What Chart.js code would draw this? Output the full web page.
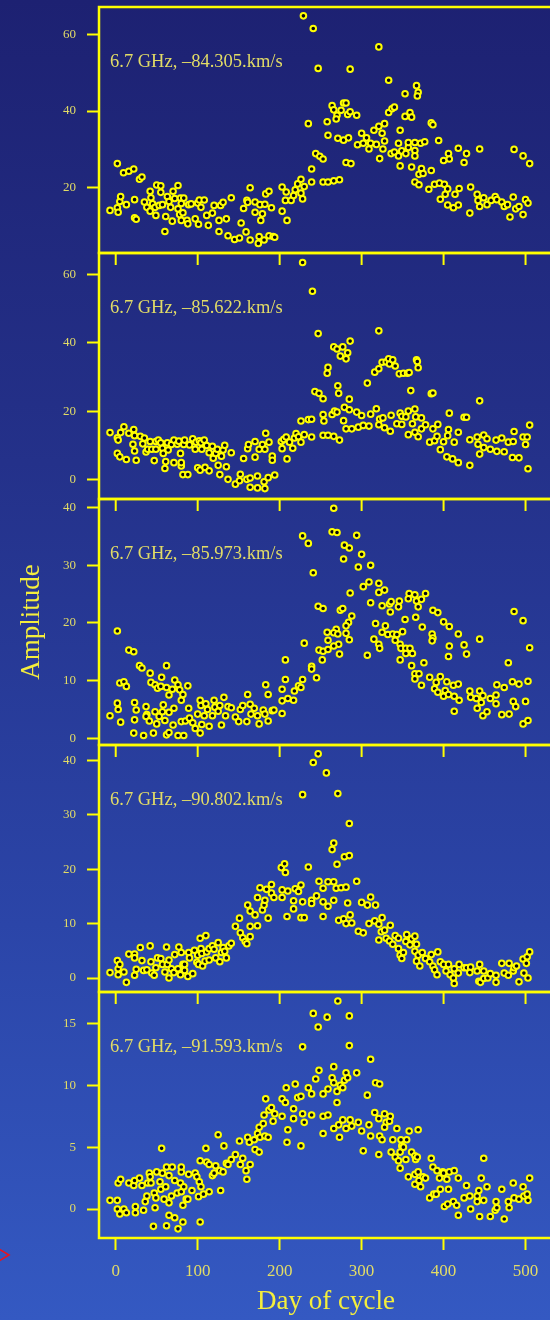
<!DOCTYPE html>
<html>
<head>
<meta charset="utf-8">
<script src="https://cdn.jsdelivr.net/npm/chart.js@4.4.1/dist/chart.umd.min.js"></script>
<style>
  html, body { margin: 0; padding: 0; overflow: hidden; }
  body {
    width: 550px; height: 1320px; position: relative;
    background: linear-gradient(to bottom, #1d2172 0%, #24318a 35%, #2b45a8 70%, #3459c2 100%);
  }
  canvas { position: absolute; left: 0; }
</style>
</head>
<body>
<canvas id="p1"></canvas>
<canvas id="p2"></canvas>
<canvas id="p3"></canvas>
<canvas id="p4"></canvas>
<canvas id="p5"></canvas>
<script>
// panel captions
const panelLabels = [
  '6.7 GHz, –84.305.km/s',
  '6.7 GHz, –85.622.km/s',
  '6.7 GHz, –85.973.km/s',
  '6.7 GHz, –90.802.km/s',
  '6.7 GHz, –91.593.km/s'
];

// tick labels
const xTicks = [0, 100, 200, 300, 400, 500];
const yTicks = [
  [20, 40, 60],
  [0, 20, 40, 60],
  [0, 10, 20, 30, 40],
  [0, 10, 20, 30, 40],
  [0, 5, 10, 15]
];
const yRanges = [[3.0, 67.1], [-5.75, 66.3], [-1.16, 41.5], [-2.57, 42.83], [-2.34, 17.53]];

// [day of cycle, amplitude]
const p1 = [[-7,14.1],[2,26.3],[2,14.8],[3,13.6],[5,16.4],[6,17.7],[9.5,23.9],[13,15.6],[16,24.3],[22,24.9],[23,16.9],[23,12.2],[25,11.8],[29,22.2],[32,22.8],[35,16.3],[38,14.9],[42,19.1],[42,13.9],[43,17.4],[45,15.8],[48,14.9],[49,12.8],[50,20.7],[53,15.4],[55,20.5],[55,18.8],[57,15.6],[60,8.6],[61,12.5],[63,17.7],[65,16.4],[67,14.9],[69,11.3],[70,19.1],[72,17.2],[76,14.5],[76,20.6],[78,13],[79,17.3],[80,15.9],[80,11.5],[82,13.5],[83,17.3],[87,11.5],[88,10.6],[89,15.6],[92,15.8],[97,11.9],[100,16],[101,10.5],[102,16.8],[104,14.9],[108,16.8],[111,12.8],[113,10.2],[118,13.4],[120,15.4],[126,8.6],[126,11.5],[128,15.4],[131,16.2],[135,11.9],[137,7.5],[141,17.4],[145,6.5],[151,6.9],[153,10.8],[156,14.6],[159,8.5],[160,16.7],[161,16.2],[164,20],[164,6.4],[170,16.3],[170,13.6],[174,5.5],[175,7.3],[176,15.6],[177,11.5],[179,13.2],[181,6.4],[182,15.7],[183,18.4],[187,7.5],[187,19.1],[190,14.8],[192,7.3],
  [194,7.1],[203,20.2],[203,13.9],[207,16.7],[208,18.9],[209,11.5],[214,16.7],[217,18],[219,19.5],[222,21],[226,18.6],[228,17.1],[230,20.3],[226,22.2],[239,24.9],[239,21.5],[244,28.9],[249,28.2],[253,27.5],[253,21.5],[259,21.5],[266,21.8],[273,22.1],
  [229,64.8],[241,61.5],[247,51.1],[235,36.7],[258,37.2],[259,33.7],[264,41.4],[266,40.3],[270,38.9],[269,37.9],[275,40.2],[278,42.1],[281,42.1],[283,39.1],[286,39.8],[294,38.9],[286,50.9],[271,32.9],[278,32.4],[284,33],[281,26.6],[287,26.3],[295,31.2],[300,34.2],[302,31.6],[306,33],[309,30.1],[311,31.6],[315,35],[318,31.3],[321,36],[321,56.7],[325,34.2],[328,36.7],[328,32.2],[326,30.1],[322,27.6],[333,48],[333,39.6],[337,40.6],[340,41],[336,28.9],[340,29.3],[345,31.6],[347,35],[345,28.3],[349,29.6],[347,25.7],[353,44.5],[353,38.6],[354,28.9],[357,30.5],[359,39.6],[361,38.4],[361,25.4],[357,31.8],[365,31.8],[365,29.7],[365,28.3],[367,46.6],[369,44.9],[368,43.9],[372,31.6],[373,25],[370,23.5],[375,23.7],[377,32],[385,36.9],[387,36.4],[385,24.5],[394,32.3],[365,21.5],[370,20.8],[382,19.6],[389,20.9],[395,21.2],[401,20.9],[405,19.7],[396,17],[402,18.3],[406,28.9],[407,27.5],[400,27.1],[414,18.3],[405,15.5],[412,14.8],[418,15.5],[418,30.3],[419,19.8],[425,26.6],[428,28.9],[433,20.2],[432,13.4],[441,18.3],[442,16.7],[444,15.1],[444,30.1],[449,17.4],[453,15.6],[458,16.7],[463,17.7],[465,16.9],[471,16.3],[474,15.1],[478,15.6],[481,12.4],[485,17.6],[486,30],[488,14.5],[492,15.1],[497,28.3],[497,13],[500,16.9],[503,16],[505,26.3]];

const p2 = [[-7,13.7],[2,12.2],[3,11.5],[6,13.7],[10,15.4],[2,7.6],[5,6.6],[13,5.8],[16,13.5],[22,14.6],[23,12.8],[21,10.3],[23,8.3],[25,5.6],[30,12.6],[33,10.4],[35,12.1],[37,8],[39,8.8],[42,11.1],[44,8.8],[47,5.5],[49,11.1],[49,8.8],[52,11.5],[55,10.7],[57,9.1],[58,7.6],[61,5.2],[60,3.2],[63,10.7],[64,8.6],[68,10.2],[71,11.5],[71,4.9],[75,10.3],[77,11.2],[79,7.6],[80,3.9],[82,1.4],[80,4.9],[83,10.2],[84,11.5],[88,1.4],[90,10.1],[94,11.9],[97,8.8],[98,10.9],[100,3.4],[102,11.3],[104,10.7],[105,8.8],[103,2.7],[109,3.5],[108,11.5],[111,9.9],[114,2.5],[114,7.8],[118,9.7],[119,6.2],[122,7.6],[124,8.8],[125,4.1],[127,1.4],[129,6.8],[131,8.6],[133,10],[135,3.7],[137,0],[141,7.8],[146,-1.4],[151,-0.4],[152,1.5],[156,6.1],[160,0],[161,9],[162,10.2],[164,0.4],[164,-2.3],[170,11.1],[170,6.5],[173,1],[173,-2.5],[175,8.8],[179,10.2],[181,-0.7],[182,8.8],[182,-2.7],[183,13.5],[186,0.5],[187,10.9],[191,6.8],[191,5.6],[194,1.3],[202,11.1],[203,9],[205,11.7],[208,12.4],[209,6],[212,10.9],[216,9.1],[218,12.1],[220,13.4],[223,12.5],[226,17.1],[226,10.9],[230,13.1],[235,17.5],[239,17.6],[239,12.4],[228,63.5],[240,55.1],[247,42.7],[243,25.7],[248,25.2],[253,23.6],[253,19],[254,17.1],[253,12.9],
  [259,32.8],[258,31.1],[259,12.9],[266,12.6],[264,19],[267,20],[270,19.7],[266,38.8],[270,38.2],[277,38.8],[274,36.1],[281,35.3],[283,37.1],[286,40.5],[271,27.4],[272,25.2],[273,11.5],[278,17.2],[279,21.1],[285,23.5],[285,20.4],[281,14.8],[288,14.8],[294,19.7],[296,15.3],[300,18.7],[302,15.8],[307,28.2],[309,15.6],[311,19.1],[316,31.4],[318,20.7],[321,43.5],[321,32.4],[322,17.7],[321,16],[325,34.3],[326,18],[328,15.1],[330,34.4],[333,35.3],[334,33.8],[335,14.1],[336,18.8],[338,35],[341,33.2],[343,16.3],[346,30.9],[347,19.4],[349,18.5],[349,16.1],[351,31.1],[354,18.3],[356,31.1],[357,20],[358,31.3],[357,13.1],[360,26],[362,16.3],[365,20.6],[365,13.8],[367,35],[368,34.5],[369,32.7],[366,18.3],[369,12.5],[373,18],[373,14.8],[378,16],[383,10.9],[385,25.1],[387,25.3],[387,14.8],[389,11.3],[392,12.6],[393,16.1],[396,8.7],[400,11],[404,6.6],[406,14.6],[407,19.4],[405,12.8],[411,6],[413,10.9],[418,4.9],[418,13.8],[425,18.2],[428,18.2],[432,11.6],[432,4.1],[441,12.4],[444,23],[442,10.3],[444,7.4],[449,9.3],[449,13],[453,11.9],[457,8.8],[464,11.5],[465,8.2],[471,12.1],[474,8.1],[479,10.9],[484,6.4],[486,14],[485,11.1],[492,6.3],[497,12.4],[500,10.2],[502,12.4],[503,3.1],[505,15.9]];

const p3 = [[-7,3.9],[2,18.6],[2,6.1],[3,5],[6,2.8],[5,9.6],[10,9.8],[13,9],[16,15.3],[22,15],[22,0.9],[23,6.2],[25,4.9],[23,3.2],[29,12.6],[32,12.2],[34,0.5],[37,5.5],[38,4.1],[37,3.8],[41,3],[42,11.3],[43,9.7],[46,0.9],[48,9.3],[48,4.6],[50,2.5],[51,8.7],[53,3.8],[55,9],[56,10.6],[58,5.8],[57,4.6],[60,3.1],[62,12.6],[62,0.6],[62,8.8],[65,7.5],[65,4.5],[65,1],[69,8.5],[70,2.3],[71,5.2],[72,10.1],[76,9.3],[76,0.5],[78,8.4],[80,6.6],[80,2.9],[82,7.6],[83,0.5],[85,3],[88,9.1],[89,5.2],[90,3.5],[94,2.7],[97,1.7],[100,4.2],[103,6.6],[104,5.7],[103,0.9],[105,2.4],[108,3.9],[110,6],[112,5],[114,2.1],[118,3.9],[120,6.6],[121,5.4],[125,4.7],[127,5.7],[129,2.3],[132,7.1],[134,3.9],[137,5.5],[141,5.3],[146,3.7],[150,2.9],[152,5],[155,5.7],[160,2.9],[161,7.6],[164,5.9],[165,4.2],[169,5.2],[173,3.9],[175,2.5],[180,4.9],[182,4.2],[183,9.3],[186,3],[186,7.6],[191,4.8],[193,4.9],[203,8.5],[203,4.3],[203,6.5],[207,10.2],[207,13.6],[210,6.9],[217,6.6],[218,8.2],[223,9.1],[226,8.8],[228,10.2],[230,16.5],[228,35.1],[235,33.8],[241,28.7],[239,12.5],[239,12],[245,10.5],[247,22.9],[253,22.5],[248,15.3],[253,15.1],[252,13.6],
  [266,39.9],[264,35.8],[270,35.7],[279,33.5],[285,33],[278,31.1],[294,35.2],[300,31.9],[296,29.7],[311,30],[309,27.1],[302,26.3],[321,26.9],[321,25.3],[328,25.7],[286,25.2],[311,23.5],[325,23],[334,23.3],[336,23.7],[346,23.8],[345,22.8],[335,21.9],[274,22.2],[277,22.5],[288,21.2],[284,20.1],[281,19.5],[258,18.4],[269,18.9],[266,18.3],[271,18.1],[281,18.2],[285,17.1],[259,17],[272,16.3],[266,16],[259,15.4],[273,14.6],[307,14.4],[317,19.9],[329,19.5],[325,18.4],[315,17.2],[321,16.3],[322,15.6],[332,18],[338,18.1],[343,18],[350,18.5],[341,17],[347,16.3],[348,15.6],[353,20.6],[358,25.1],[357,24.2],[365,24.9],[367,23.8],[369,22.8],[373,24.1],[378,25.1],[366,21],[374,19.3],[354,15.6],[359,15.6],[354,14.7],[362,14.7],[347,13.6],[361,12.6],[365,11.2],[370,11.2],[365,10.3],[376,13.1],[373,9.2],[383,10.6],[387,22.2],[393,21.8],[386,18.1],[387,17.4],[386,16.9],[391,9.7],[389,8.6],[393,8],[396,10.7],[400,20.2],[407,19.4],[404,9.8],[402,8.3],[400,7.3],[407,16],[406,14.2],[406,7.6],[412,9.2],[413,7.3],[413,4.7],[418,18.1],[418,9.4],[419,6.6],[425,16.2],[428,14.6],[432,8.2],[433,7.1],[440,6.9],[441,5.2],[444,17.2],[444,8.2],[446,6.2],[448,7.4],[448,3.9],[453,4.6],[457,6.9],[464,7.5],[465,9.3],[464,6],[471,4.1],[474,8.8],[479,13.1],[480,4.2],[484,9.8],[486,22],[485,6.4],[488,5.5],[492,9.4],[497,20.4],[497,2.5],[500,6.4],[503,9.9],[503,3.1],[505,15.7]];

const p4 = [[-7,1],[2,3.2],[3,1.7],[5,2.5],[3,0.6],[10,1.1],[13,-0.8],[16,4.4],[23,4.4],[23,3.7],[23,0.5],[25,1.6],[30,5.6],[32,3.2],[34,1.4],[38,1.5],[42,5.9],[43,3],[44,0.9],[47,0.5],[49,1.9],[51,3.7],[55,3.6],[57,2.5],[60,1.1],[62,5.7],[63,2.5],[65,3.3],[65,0],[68,1.7],[71,1],[72,4.3],[76,1.7],[77,5.7],[79,0.6],[80,4.7],[82,2.5],[84,1.4],[84,2.5],[88,0.3],[89,4.7],[90,3.7],[94,0.8],[96,5.1],[100,4.2],[99,2.9],[101,2.5],[103,7.3],[104,5.4],[105,4.5],[106,2.2],[109,3.1],[110,7.8],[111,4.8],[114,5.4],[114,3.3],[118,5.9],[120,5.3],[122,3.7],[125,6.5],[127,3],[129,4.7],[131,5.6],[133,4.9],[135,3.7],[138,5.9],[141,6.4],[146,9.5],[151,11],[152,8.3],[155,7.4],[158,6.7],[160,6.3],[161,13.4],[164,12.3],[164,9.5],[164,7.6],[170,11.6],[173,14.8],[173,9.6],[176,16.6],[179,12.5],[181,13.4],[182,14.3],[184,16.3],[186,11],[190,17.2],[190,15.6],[193,14.8],[202,20.3],[206,21],[207,19.4],[203,16.2],[203,14.8],[209,11.3],[210,16],[217,14.2],[217,12.7],[219,16.4],[223,15.9],[226,11.1],[230,11.1],[226,17.1],[228,14],[228,33.7],[235,20.4],[241,39.6],[247,41.2],[239,14.3],[239,13.7],[245,15.1],[248,17.8],[253,16.5],[253,14],[253,11.3],[257,37.7],
  [271,33.9],[285,28.4],[266,24.8],[264,23.6],[279,22.3],[285,22.5],[270,20.9],[259,17.7],[266,17.7],[269,16.5],[275,16.6],[281,16.7],[294,17.8],[259,13.2],[266,14.3],[283,13.8],[272,10.6],[278,10.9],[281,10],[286,11.6],[288,10.1],[300,13.9],[307,13.4],[311,14.9],[317,13.4],[296,8.6],[302,8.3],[309,10],[316,10.5],[321,9.9],[325,11.1],[321,7],[324,8.5],[328,8.8],[335,9.7],[330,7.3],[334,6.8],[341,7.8],[338,6.2],[345,7.3],[345,5.4],[347,4.2],[349,3.6],[351,4.7],[355,8],[354,6.7],[359,6.1],[361,7.2],[365,7.7],[365,4.9],[367,6.2],[369,4.2],[367,3.1],[371,2.2],[374,4.7],[378,3.6],[383,3],[387,2.2],[385,4.3],[389,1.5],[392,0.6],[393,4.8],[396,3],[400,2.5],[403,1.3],[406,2.5],[408,0.6],[412,0],[413,-1],[413,1.7],[418,0.9],[419,2.5],[425,1.9],[428,1.9],[433,2],[432,1],[441,1.3],[444,2.5],[443,-0.6],[445,-0.8],[449,1.3],[449,-0.1],[454,0],[457,0.8],[464,0.5],[464,-0.8],[471,2.7],[474,0.9],[479,0.5],[480,2.7],[485,1.3],[486,1.9],[489,2.2],[492,-0.7],[497,3.5],[498,0.9],[501,2.7],[502,3.9],[503,0],[505,4.8]];

const p5 = [[-7,0.7],[2,0.7],[2,0],[5,-0.4],[10,0],[13,-0.3],[3,2.1],[6,2.4],[16,2.1],[22,1.9],[23,2.3],[24,0.2],[24,-0.3],[29,2.5],[32,1.9],[34,-0.1],[36,0.6],[38,1.05],[39,2.1],[41,2.9],[42,2.6],[43,2.1],[46,-1.4],[47,1.3],[48,0.1],[49,0.9],[50,3],[54,2.2],[55,1.6],[56,4.9],[57,2.9],[59,0.8],[61,1.8],[62,-1.35],[62,3.4],[65,2.7],[65,0.5],[65,-0.5],[69,3.4],[68,1.05],[72,2.3],[72,-0.7],[75,1.3],[76,-1.6],[79,2.1],[80,3],[80,3.4],[80,1.4],[82,0.3],[82,-1.05],[83,1.8],[86,0.8],[88,0.8],[89,2.8],[93,1.5],[97,2.9],[99,2.6],[101,1],[102,2.2],[103,3.9],[103,-1.05],[104,1.8],[107,1.2],[110,4.9],[111,3.8],[114,3.6],[114,1.4],[118,2.7],[120,2.9],[122,3.5],[125,6],[127,3.1],[128,1.5],[131,3],[132,5.1],[135,3.7],[137,3.6],[141,4],[146,4.4],[151,5.5],[152,3.6],[155,4.1],[159,3.1],[160,2.4],[161,5.8],[163,5.4],[164,3.6],[169,5.6],[170,4.8],[173,6.1],[175,4.6],[175,6.6],[176,5.8],[180,6.9],[181,7.6],[182,5.9],[183,8.9],[186,5.8],[187,8],[190,8.2],[192,7.1],[194,7.7],[203,8.9],[203,7.5],[207,8.6],[208,9.8],[209,5.4],[210,6.4],[217,7.3],[217,8.1],[219,10.1],[222,9],[226,5.1],[226,9.1],[228,13.1],[228,7.7],[230,7],[235,9.8],[239,9.3],[239,7.6],[241,15.8],[244,10.5],[247,14.7],[248,11.2],[253,9.3],[253,7.5],[253,6.1],
  [258,15.5],[271,16.8],[285,15.6],[285,13.2],[311,12.1],[266,11.5],[264,10.6],[266,10.2],[274,10],[277,9.8],[279,10.4],[281,11],[283,10.6],[294,11],[259,9.7],[270,9.5],[270,8.6],[307,9.2],[317,10.2],[322,10.1],[259,7.6],[266,6.5],[272,6.8],[277,7.2],[281,6.5],[286,7.2],[288,6.7],[273,5.8],[296,7],[300,6.3],[302,4.7],[309,6.8],[311,5.9],[316,7.8],[321,7.3],[322,5.9],[321,4.4],[325,5.6],[328,7.7],[330,7],[334,7.1],[335,7.5],[328,6.6],[336,4.6],[338,5.6],[341,4.2],[343,6.5],[345,3.9],[347,4.6],[349,5.1],[348,5.6],[347,3.3],[351,5],[354,4],[355,5.6],[358,6.3],[361,4.6],[365,4.3],[366,4],[369,6.4],[368,4.2],[357,2.6],[365,2.8],[365,2],[369,3],[370,2.3],[372,1.8],[375,2.6],[378,2.5],[383,0.9],[385,4.1],[387,3.4],[388,1.2],[391,1.2],[392,3.1],[395,2.5],[396,1.6],[399,3],[400,2.9],[401,0.2],[404,2.4],[405,0.4],[406,1.6],[407,3],[412,0.6],[413,3.1],[416,0.3],[418,2.5],[418,-0.5],[425,0.9],[428,1.9],[432,1.05],[433,0],[441,0.6],[441,1.05],[443,1.5],[444,-0.6],[446,2.5],[449,4.1],[449,0.7],[453,1.8],[457,-0.6],[463,-0.1],[465,0.1],[464,0.6],[471,1.6],[474,-0.8],[479,0.6],[480,0.1],[485,2.1],[486,0.9],[492,0.8],[497,1.8],[498,1.05],[502,1.2],[503,0.7],[505,2.5]];

const panelData = [p1, p2, p3, p4, p5];

const lineYellow = '#ffff00';
const textYellow = '#e2dc66';
const titleYellow = '#f4ee3c';
Chart.defaults.font.family = '"Liberation Serif", "Times New Roman", serif';

// panel frame edges on the page (y)
const edges = [6.5, 252.5, 499, 745, 992, 1238];
const xMin = -20.4, xMax = 533.5;
const pad = 20;

const decoPlugin = {
  id: 'deco',
  afterDatasetsDraw(chart, args, opts) {
    const { ctx, chartArea: a } = chart;
    const x = chart.scales.x;
    ctx.save();
    ctx.strokeStyle = lineYellow;
    ctx.lineWidth = 2.5;
    ctx.strokeRect(a.left, a.top, a.right - a.left, a.bottom - a.top);
    if (opts.topTicks) {
      ctx.lineWidth = 2;
      xTicks.forEach(v => {
        const px = x.getPixelForValue(v);
        ctx.beginPath();
        ctx.moveTo(px, a.top);
        ctx.lineTo(px, a.top + 12);
        ctx.stroke();
      });
    }
    ctx.fillStyle = textYellow;
    ctx.font = '18.5px "Liberation Serif"';
    ctx.textBaseline = 'alphabetic';
    ctx.fillText(opts.label, a.left + 11, a.top + 60);
    if (opts.marker) {
      const my = 1255 - opts.canvasTop;
      ctx.strokeStyle = '#e8141e';
      ctx.lineWidth = 1.6;
      ctx.beginPath();
      ctx.moveTo(-1, my - 6);
      ctx.lineTo(9, my);
      ctx.lineTo(-1, my + 6);
      ctx.stroke();
    }
    ctx.restore();
  }
};

panelData.forEach((pts, i) => {
  const last = i === panelData.length - 1;
  const canvas = document.getElementById('p' + (i + 1));
  const top = edges[i] - pad;
  const height = last ? 1320 - top : edges[i + 1] - edges[i] + 2 * pad;
  canvas.width = 560;
  canvas.height = height;
  canvas.style.top = top + 'px';
  canvas.style.width = '560px';
  canvas.style.height = height + 'px';

  new Chart(canvas, {
    type: 'scatter',
    data: {
      datasets: [{
        data: pts.map(p => ({ x: p[0], y: p[1] })),
        pointRadius: 2.8,
        pointHoverRadius: 2.8,
        borderWidth: 2,
        borderColor: lineYellow,
        backgroundColor: '#050510'
      }]
    },
    options: {
      responsive: false,
      maintainAspectRatio: false,
      animation: false,
      events: [],
      layout: { padding: { top: pad, bottom: last ? 0 : pad, left: 0, right: 7 } },
      plugins: {
        legend: { display: false },
        tooltip: { enabled: false },
        deco: { label: panelLabels[i], topTicks: i > 0, marker: last, canvasTop: top }
      },
      scales: {
        x: {
          type: 'linear',
          min: xMin,
          max: xMax,
          display: last,
          afterFit: s => { if (last) s.height = 82; },
          afterBuildTicks: s => { s.ticks = xTicks.map(v => ({ value: v })); },
          grid: { drawOnChartArea: false, drawTicks: true, tickLength: 12, tickColor: lineYellow, tickWidth: 2 },
          border: { display: false },
          ticks: { color: textYellow, font: { size: 17 }, padding: 11, maxRotation: 0 },
          title: {
            display: true, text: 'Day of cycle', color: titleYellow,
            font: { size: 27 }, padding: { top: 0, bottom: 2 }
          }
        },
        y: {
          min: yRanges[i][0],
          max: yRanges[i][1],
          afterFit: s => { s.width = 99; },
          afterBuildTicks: s => { s.ticks = yTicks[i].map(v => ({ value: v })); },
          grid: { drawOnChartArea: false, drawTicks: true, tickLength: 12, tickColor: lineYellow, tickWidth: 2 },
          border: { display: false },
          ticks: { color: textYellow, font: { size: 13 }, padding: 11 },
          title: {
            display: i === 2, text: 'Amplitude', color: titleYellow,
            font: { size: 27 }, padding: { top: 16, bottom: 0 }
          }
        }
      }
    },
    plugins: [decoPlugin]
  });
});
</script>
</body>
</html>
